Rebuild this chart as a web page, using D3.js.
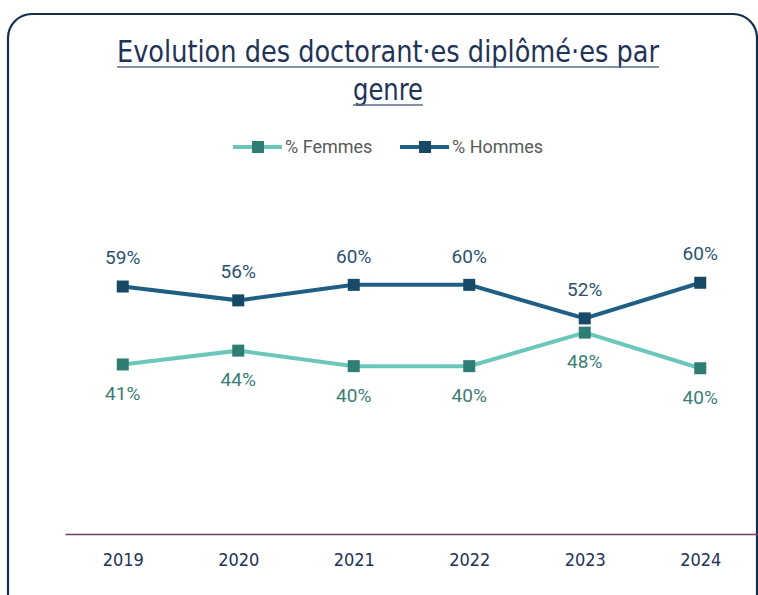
<!DOCTYPE html>
<html><head><meta charset="utf-8">
<script src="https://cdn.jsdelivr.net/npm/d3@7"></script>
<style>html,body{margin:0;padding:0;background:#fff;}</style>
</head><body>
<svg id="chart" width="758" height="595"></svg>
<script>
const years = ["2019","2020","2021","2022","2023","2024"];
const femmes = [40.7, 44.0, 40.3, 40.3, 48.3, 39.8];
const hommes = [59.3, 56.0, 59.7, 59.7, 51.7, 60.2];
const femmesLabels = ["41%","44%","40%","40%","48%","40%"];
const hommesLabels = ["59%","56%","60%","60%","52%","60%"];
const titleLines = ["Evolution des doctorant·es diplômé·es par", "genre"];
const legendNames = ["% Femmes", "% Hommes"];

const svg = d3.select("#chart");
svg.append("rect").attr("x",8).attr("y",14).attr("width",749).attr("height",620)
  .attr("rx",24).attr("fill","#fff").attr("stroke","#132f4f").attr("stroke-width",2.2);

const x = d3.scalePoint().domain(years).range([65,758]).padding(0.5);
const y = d3.scaleLinear().domain([0,100]).range([535,116]);

// title
const titleFont = "'DejaVu Sans Condensed','DejaVu Sans',sans-serif";
const titleW = [542, 70];
[62,100].forEach((by,i)=>{
  svg.append("text").attr("x",388).attr("y",by).attr("text-anchor","middle")
    .attr("font-family",titleFont).attr("font-stretch","condensed").attr("font-size",30)
    .attr("textLength",titleW[i]).attr("lengthAdjust","spacingAndGlyphs")
    .attr("fill","#1f3356").text(titleLines[i]);
  svg.append("line").attr("x1",388-titleW[i]/2).attr("x2",388+titleW[i]/2).attr("y1",by+5).attr("y2",by+5)
    .attr("stroke","#5a6f8a").attr("stroke-width",1.6);
});

const series = [
  {name:legendNames[0], values:femmes, labels:femmesLabels, line:"#6cc7bb", mark:"#2f7e74", text:"#3a7d76", dy:29},
  {name:legendNames[1], values:hommes, labels:hommesLabels, line:"#1f5f84", mark:"#184a68", text:"#2b5170", dy:-29}
];

// axis
const xAxis = d3.axisBottom(x).tickSize(0).tickPadding(19);
const ax = svg.append("g").attr("transform","translate(0,534)").call(xAxis);
ax.select(".domain").attr("stroke","#6e3f5e").attr("stroke-width",1.6);
ax.selectAll("text").attr("font-family",titleFont).attr("font-stretch","condensed")
  .attr("font-size",18).attr("fill","#1f3356");

// lines
const lineGen = (s)=>d3.line().x((d,i)=>x(years[i])).y(d=>y(d))(s.values);
series.forEach(s=>{
  svg.append("path").attr("d",lineGen(s)).attr("fill","none").attr("stroke",s.line).attr("stroke-width",4);
  svg.selectAll(null).data(s.values).enter().append("rect")
    .attr("x",(d,i)=>x(years[i])-6).attr("y",d=>y(d)-6).attr("width",12).attr("height",12)
    .attr("fill",s.mark);
  svg.selectAll(null).data(s.values).enter().append("text")
    .attr("x",(d,i)=>x(years[i])).attr("y",d=>y(d)+s.dy).attr("dy","0.35em")
    .attr("text-anchor","middle").attr("font-family","Roboto, sans-serif").attr("font-size",19)
    .attr("fill",s.text).text((d,i)=>s.labels[i]);
});

// legend
const legX = [233, 400];
series.forEach((s,i)=>{
  const g = svg.append("g").attr("transform",`translate(${legX[i]},147)`);
  g.append("line").attr("x1",0).attr("x2",49).attr("stroke",s.line).attr("stroke-width",4);
  g.append("rect").attr("x",19).attr("y",-6).attr("width",12).attr("height",12).attr("fill",s.mark);
  g.append("text").attr("x",52).attr("dy","0.35em").attr("font-family","Roboto, sans-serif")
    .attr("font-size",18).attr("fill","#595959").text(s.name);
});
</script>
</body></html>
